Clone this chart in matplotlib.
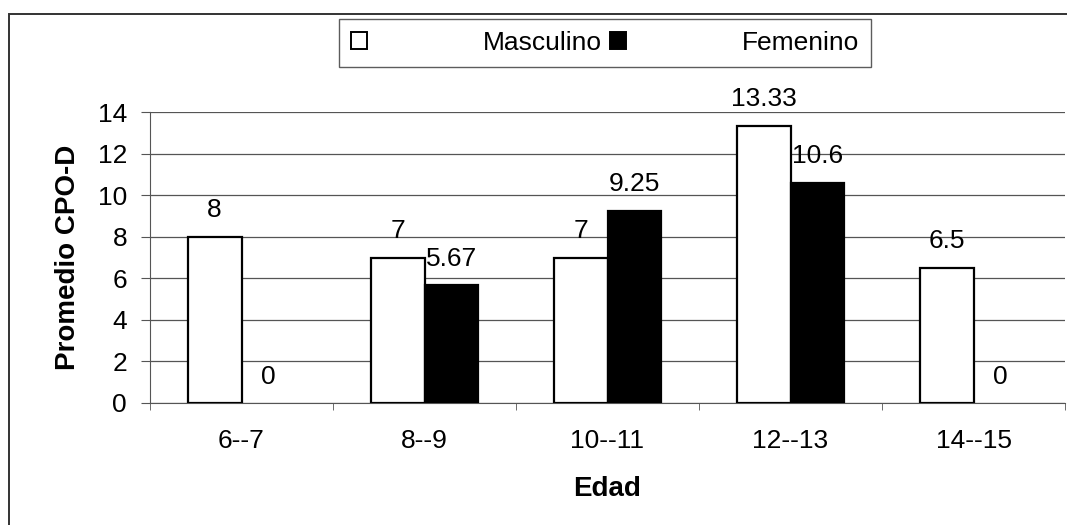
import matplotlib.pyplot as plt
import numpy as np
from matplotlib.patches import Rectangle

plt.rcParams['font.family'] = ['Liberation Sans', 'DejaVu Sans']

# data
edades = ['6--7', '8--9', '10--11', '12--13', '14--15']
masculino = [8, 7, 7, 13.33, 6.5]
femenino = [0, 5.67, 9.25, 10.6, 0]
etiq_masc = ['8', '7', '7', '13.33', '6.5']
etiq_fem = ['0', '5.67', '9.25', '10.6', '0']

W, H = 1067, 525
fig = plt.figure(figsize=(W / 100, H / 100), dpi=100)
ax = fig.add_axes([150 / W, 1 - 403 / H, 915 / W, 291 / H])

x = np.arange(len(edades))
bw = 0.295
b1 = ax.bar(x - bw / 2, masculino, bw, color='white', edgecolor='black', linewidth=1.6, zorder=3)
b2 = ax.bar(x + bw / 2, femenino, bw, color='black', edgecolor='black', linewidth=1.6, zorder=3)

for bars, labels in ((b1, etiq_masc), (b2, etiq_fem)):
    for rect, lab in zip(bars, labels):
        if rect.get_height() == 0:
            rect.set_linewidth(0)
        ax.annotate(lab, (rect.get_x() + rect.get_width() / 2, rect.get_height()),
                    xytext=(0, 14), textcoords='offset points',
                    ha='center', va='baseline', fontsize=19)

ax.set_xlim(-0.5, len(edades) - 0.5)
ax.set_ylim(0, 14)
ax.set_yticks(range(0, 15, 2))
ax.set_xticks(x)
ax.set_xticklabels(edades)
ax.set_xticks(np.arange(-0.5, len(edades)), minor=True)
ax.tick_params(axis='x', which='major', length=0, pad=19, labelsize=19)
ax.tick_params(axis='x', which='minor', length=5, color='#555555')
ax.tick_params(axis='y', length=6.5, pad=10, labelsize=19, color='#555555')
ax.yaxis.grid(True, color='#555555', linewidth=0.9, zorder=0)

for s in ('top', 'right'):
    ax.spines[s].set_visible(False)
ax.spines['left'].set_color('#555555')
ax.spines['bottom'].set_color('#555555')

ax.set_ylabel('Promedio CPO-D', fontsize=20, fontweight='bold', labelpad=12)
ax.set_xlabel('Edad', fontsize=20, fontweight='bold', labelpad=16)

# outer chart border
fig.add_artist(Rectangle((9 / W, -0.1), 1.2, 1 - 14 / H + 0.1, transform=fig.transFigure,
                         fill=False, edgecolor='#333333', linewidth=1.4))

handles = [Rectangle((0, 0), 1, 1, facecolor='white', edgecolor='black', linewidth=1.4),
           Rectangle((0, 0), 1, 1, facecolor='black', edgecolor='black', linewidth=1.4)]
leg = fig.legend(handles, ['Masculino', 'Femenino'], loc='center',
                 bbox_to_anchor=(605 / W, 1 - 43 / H), ncol=2, fontsize=19,
                 frameon=True, fancybox=False, handlelength=0.6, handleheight=0.6,
                 handletextpad=4.4, columnspacing=0.3, borderpad=0.45, borderaxespad=0)
leg.get_frame().set_edgecolor('#333333')
leg.get_frame().set_linewidth(1.0)

fig.savefig('out.png', dpi=100)
